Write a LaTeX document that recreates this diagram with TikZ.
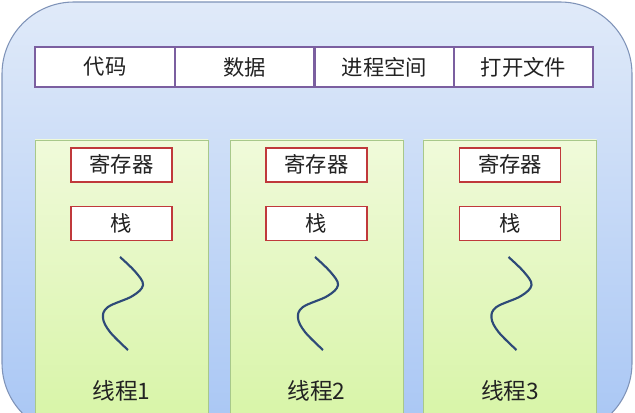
\documentclass[tikz,border=0pt]{standalone}
\usepackage{fontspec}
\newfontfamily\cjk{Noto Sans CJK SC}
\usepackage{tikz}
\usetikzlibrary{positioning,shapes}
\usepackage{xcolor}
\definecolor{procblue}{RGB}{168,198,244}
\definecolor{proclight}{RGB}{224,234,249}
\definecolor{procline}{RGB}{127,147,184}
\definecolor{cellline}{RGB}{123,95,160}
\definecolor{thrgreen}{RGB}{214,244,164}
\definecolor{thrlight}{RGB}{240,250,218}
\definecolor{thrline}{RGB}{168,200,138}
\definecolor{regred}{RGB}{192,57,59}
\definecolor{wavy}{RGB}{46,74,120}
\definecolor{txt}{RGB}{34,34,34}
\tikzstyle{cell} = [rectangle, minimum width=104.6pt, minimum height=30pt, text centered, draw=cellline, fill=white, line width=1.2pt, font=\cjk\fontsize{16}{19}\selectfont, text=txt]
\tikzstyle{threadbox} = [rectangle, minimum width=129.75pt, minimum height=225pt, draw=thrline, top color=thrlight, bottom color=thrgreen, thin]
\tikzstyle{regbox} = [rectangle, minimum width=75.75pt, minimum height=25.5pt, text centered, draw=regred, fill=white, line width=1.4pt, font=\cjk\fontsize{16}{19}\selectfont, text=txt]
\tikzstyle{label} = [font=\cjk\fontsize{17}{20}\selectfont, text=txt]

\begin{document}
\begin{tikzpicture}[x=0.75pt, y=-0.75pt]
\useasboundingbox (0,0) rectangle (635,413);
\clip (0,0) rectangle (635,413);

% Process
\draw[draw=procline, thick, top color=proclight, bottom color=procblue, rounded corners=54pt] (2,2) rectangle (632,435);

% Shared resources
\node[cell] (code) at (105,67) {代码};
\node[cell] (data) at (244.5,67) {数据};
\node[cell] (space) at (384.5,67) {进程空间};
\node[cell] (files) at (523.5,67) {打开文件};

% Threads
\foreach \i/\cx in {1/121.5,2/316.5,3/510} {
    \node[threadbox] (t\i) at (\cx,290) {};
    \node[regbox, below=5.25pt of t\i.north] (reg\i) {寄存器};
    \node[regbox, below=17.25pt of reg\i] (stack\i) {栈};
    \draw[wavy, line width=1.6pt, xshift=\cx*0.75pt] plot[smooth, tension=0.6] coordinates {(-1.5,257) (14,272) (21.5,285) (11,296) (-13.5,307) (-18.5,318) (-11.5,332) (6.5,350)};
    \node[label] (name\i) at (\cx,391) {线程\i};
}
\end{tikzpicture}
\end{document}
